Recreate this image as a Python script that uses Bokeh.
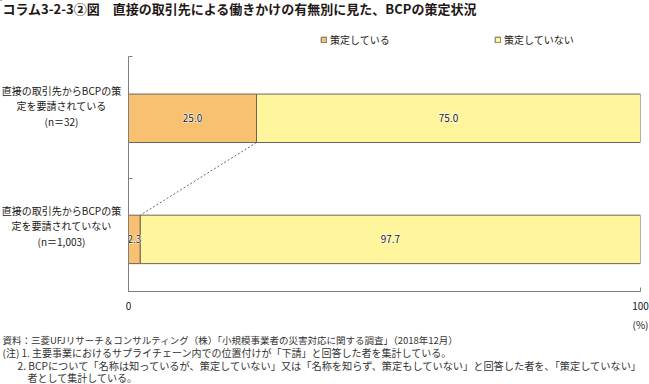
from bokeh.plotting import figure
from bokeh.models import Range1d, FixedTicker, Label, Legend, LegendItem, ColumnDataSource
from bokeh.core.properties import value
from bokeh.embed import file_html
from bokeh.resources import INLINE

# ---------------- data ----------------
title_text = "コラム3-2-3②図　直接の取引先による働きかけの有無別に見た、BCPの策定状況"
category_lines = [
    ["直接の取引先からBCPの策", "定を要請されている", "(n＝32)"],
    ["直接の取引先からBCPの策", "定を要請されていない", "(n＝1,003)"],
]
series_names = ["策定している", "策定していない"]
formulated = [25.0, 2.3]
not_formulated = [75.0, 97.7]
x_ticks = [0, 100]
unit_label = "(%)"
notes = [
    "資料：三菱UFJリサーチ＆コンサルティング（株）「小規模事業者の災害対応に関する調査」（2018年12月）",
    "(注) 1. 主要事業におけるサプライチェーン内での位置付けが「下請」と回答した者を集計している。",
    "2. BCPについて「名称は知っているが、策定していない」又は「名称を知らず、策定もしていない」と回答した者を、「策定していない」",
    "者として集計している。",
]

# ---------------- style / layout ----------------
FONT = "Noto Sans CJK JP"
ORANGE = "#F8C172"
YELLOW = "#FFF59C"
EDGE = "#6f6458"
TXT = "#231815"
W, H = 649, 384
FL, FR, FT, FB = 128, 640, 56, 291          # chart frame edges in page pixels
Y0, Y1 = -0.43, 1.51
ypos = [1, 0]
bar_h = 0.4
ABS = {"position": "absolute", "left": "0px", "top": "0px"}

# ---------- text layer (frame covers the whole page, pixel coordinates) ----------
t = figure(width=W, height=H, output_backend="svg", toolbar_location=None,
           x_range=Range1d(0, W), y_range=Range1d(H, 0),
           x_axis_location=None, y_axis_location=None,
           min_border=0, min_border_left=0, min_border_right=0,
           min_border_top=0, min_border_bottom=0)
t.styles = ABS
t.outline_line_color = None
t.xgrid.visible = False
t.ygrid.visible = False
t.background_fill_color = "white"
t.border_fill_color = "white"

def add_label(x, y, text, align="left", size="10px", color=TXT, style="normal"):
    t.add_layout(Label(x=x, y=y, text=text, text_align=align, text_baseline="middle",
                       text_font=FONT, text_font_size=size, text_color=color,
                       text_font_style=style))

add_label(2, 8, title_text, size="13px", style="bold")

cat_centers = [105, 225]
for lines, cy in zip(category_lines, cat_centers):
    for i, s in enumerate(lines):
        add_label(61, cy + (i - 1) * 15.5, s, align="center")

add_label(648, 324, unit_label, align="right")

note_x = [2, 2, 17, 27]
note_y = [339, 352, 364.5, 376.5]
note_size = ["9.5px", "10px", "10.2px", "10px"]
for s, nx, ny, fs in zip(notes, note_x, note_y, note_size):
    add_label(nx, ny, s, size=fs, color="#333333")

# legend swatches: renderers kept off-canvas, used only for the legend glyphs
l1 = t.hbar(y=[-1000], left=[0], right=[1], height=1, fill_color=ORANGE, line_color=EDGE)
l2 = t.hbar(y=[-1000], left=[0], right=[1], height=1, fill_color=YELLOW, line_color=EDGE)
legend = Legend(items=[LegendItem(label=series_names[0], renderers=[l1]),
                       LegendItem(label=series_names[1], renderers=[l2])],
                orientation="horizontal", location=(320, H - 47),
                glyph_width=7, glyph_height=7, label_standoff=3,
                label_width=164, label_height=12, spacing=0, padding=0, margin=0,
                border_line_color=None, background_fill_alpha=0,
                label_text_font=FONT, label_text_font_size="10px",
                label_text_color=TXT)
t.add_layout(legend, "center")

# ---------- chart layer ----------
p = figure(width=W, height=H, output_backend="svg", toolbar_location=None,
           x_range=Range1d(0, 100), y_range=Range1d(Y0, Y1),
           min_border_left=FL, min_border_right=W - FR,
           min_border_top=FT, min_border_bottom=H - FB)
p.styles = ABS
p.outline_line_color = None
p.xgrid.visible = False
p.ygrid.visible = False
p.background_fill_color = None
p.border_fill_color = None

src = ColumnDataSource(dict(
    y=ypos,
    a=formulated,
    b=[f + n for f, n in zip(formulated, not_formulated)],
    zero=[0] * len(ypos),
    am=[f / 2 for f in formulated],
    bm=[f + n / 2 for f, n in zip(formulated, not_formulated)],
    at=[f"{v:.1f}" for v in formulated],
    bt=[f"{v:.1f}" for v in not_formulated],
))

p.hbar(y="y", left="zero", right="a", height=bar_h, source=src,
       fill_color=ORANGE, line_color=EDGE, line_width=1)
p.hbar(y="y", left="a", right="b", height=bar_h, source=src,
       fill_color=YELLOW, line_color=EDGE, line_width=1)

# dotted line connecting the boundaries of the two bars
p.line(x=[formulated[0], formulated[1]],
       y=[ypos[0] - bar_h / 2, ypos[1] + bar_h / 2],
       line_color="#666666", line_width=1, line_dash="2 2")

for col_x, col_t in (("am", "at"), ("bm", "bt")):
    p.text(x=col_x, y="y", text=col_t, source=src,
           text_font=value(FONT), text_font_size="10px", text_color="white",
           text_outline_color="white",
           text_align="center", text_baseline="middle")
    p.text(x=col_x, y="y", text=col_t, source=src,
           text_font=value(FONT), text_font_size="10px", text_color=TXT,
           text_align="center", text_baseline="middle")

xa = p.xaxis[0]
xa.ticker = FixedTicker(ticks=x_ticks)
xa.axis_line_color = "#7f7f7f"
xa.major_tick_line_color = "#7f7f7f"
xa.major_tick_in = 4
xa.major_tick_out = 0
xa.minor_tick_line_color = None
xa.major_label_text_font = FONT
xa.major_label_text_font_size = "10px"
xa.major_label_text_color = TXT
xa.major_label_standoff = 10

ya = p.yaxis[0]
ya.ticker = FixedTicker(ticks=[0.5, Y1])
ya.axis_line_color = "#7f7f7f"
ya.major_tick_line_color = "#7f7f7f"
ya.major_tick_in = 4
ya.major_tick_out = 0
ya.minor_tick_line_color = None
ya.major_label_text_font_size = "0px"
ya.major_label_text_color = None

open("out.html", "w").write(file_html([t, p], INLINE))
